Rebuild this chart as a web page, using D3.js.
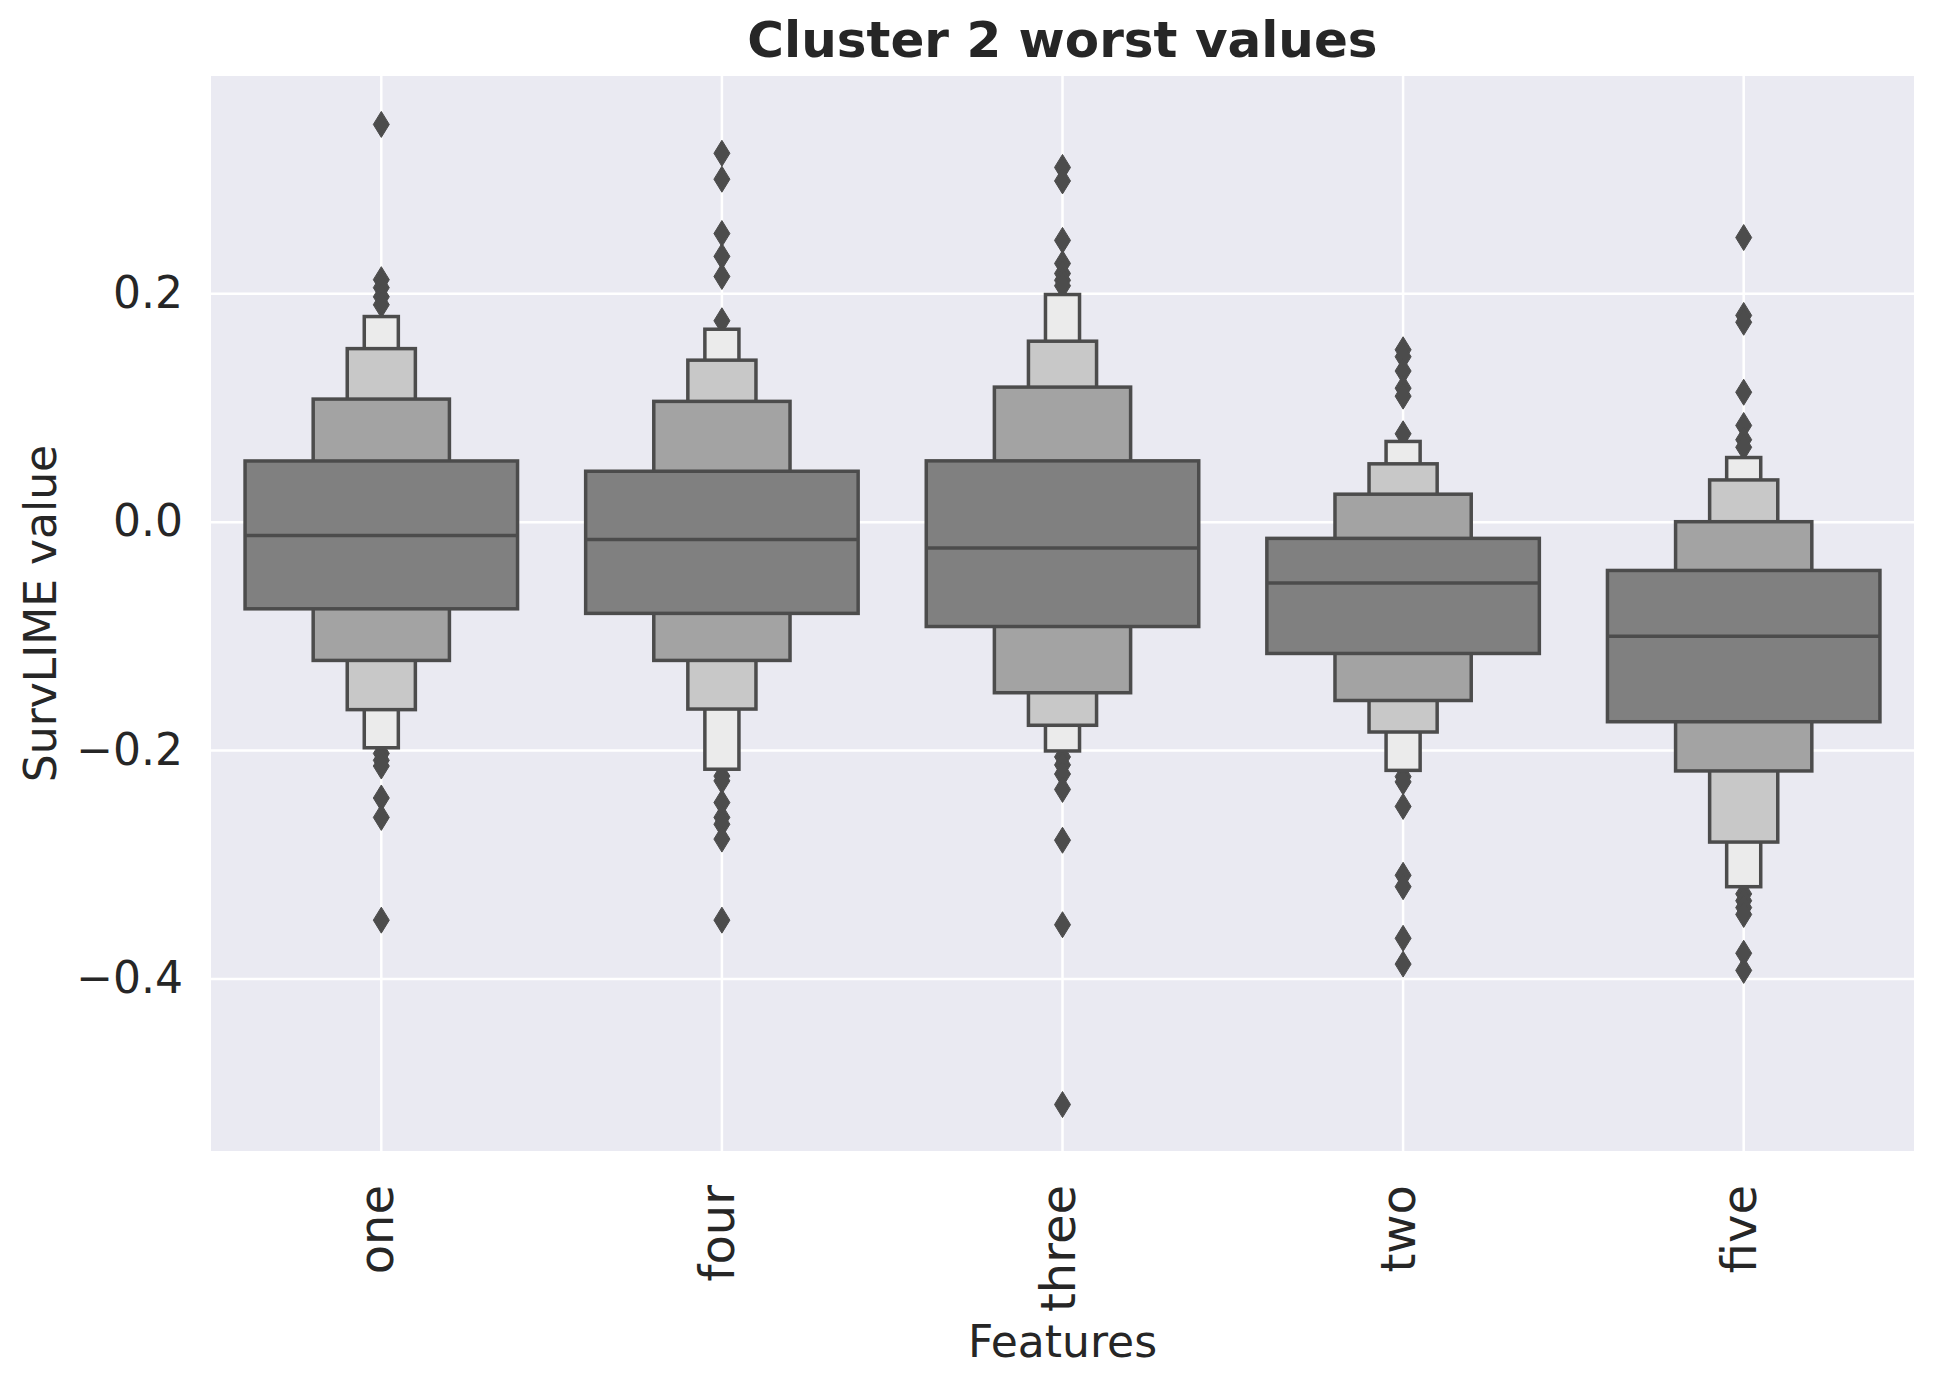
<!DOCTYPE html>
<html>
<head>
<meta charset="utf-8">
<script src="https://cdn.jsdelivr.net/npm/d3@7"></script>
<style>
  body { margin: 0; background: #fff; }
  text { font-family: "DejaVu Sans", sans-serif; fill: #262626; }
</style>
</head>
<body>
<div id="chart"></div>
<script>
// features in plotting order
const features = ["one", "four", "three", "two", "five"];
const yTicks = [-0.4, -0.2, 0.0, 0.2];

// letter-value boxes, innermost level first
const medians = [-0.012, -0.0156, -0.0231, -0.0537, -0.1004];
const upperEdges = [
  [0.0532, 0.1074, 0.1516, 0.1797],
  [0.0442, 0.1054, 0.1415, 0.1686],
  [0.0533, 0.1179, 0.1581, 0.199],
  [-0.0146, 0.0241, 0.0507, 0.0703],
  [-0.0427, 0.0, 0.0366, 0.0562]
];
const lowerEdges = [
  [-0.0763, -0.1215, -0.1646, -0.198],
  [-0.0803, -0.1215, -0.1641, -0.2168],
  [-0.0918, -0.1498, -0.1783, -0.2008],
  [-0.1154, -0.1566, -0.1842, -0.2178],
  [-0.1752, -0.2183, -0.2806, -0.3197]
];
const outliers = [
  [0.348, 0.212, 0.205, 0.197, 0.19, -0.203, -0.209, -0.214, -0.242, -0.259, -0.349],
  [0.3227, 0.300, 0.2524, 0.2324, 0.2148, 0.176, -0.2228, -0.227, -0.246, -0.259, -0.265, -0.278, -0.349],
  [0.3103, 0.2985, 0.2464, 0.2262, 0.2174, 0.2114, 0.2067, -0.206, -0.213, -0.221, -0.2345, -0.279, -0.353, -0.5105],
  [0.1506, 0.1445, 0.132, 0.117, 0.110, 0.077, -0.2233, -0.2279, -0.2494, -0.3097, -0.3197, -0.3649, -0.3875],
  [0.2489, 0.1807, 0.1747, 0.1134, 0.0843, 0.0718, 0.0652, -0.326, -0.332, -0.338, -0.344, -0.378, -0.393]
];

const levelColors = ["#808080", "#a3a3a3", "#c8c8c8", "#ebebeb"];
const edgeColor = "#4c4c4c";

const margin = { top: 76, right: 19, bottom: 234, left: 211 };
const width = 1933 - margin.left - margin.right;
const height = 1385 - margin.top - margin.bottom;

const svg = d3.select("#chart")
  .append("svg")
    .attr("width", width + margin.left + margin.right)
    .attr("height", height + margin.top + margin.bottom)
  .append("g")
    .attr("transform", `translate(${margin.left},${margin.top})`);

svg.append("rect")
  .attr("width", width)
  .attr("height", height)
  .attr("fill", "#eaeaf2");

const x = d3.scaleBand()
  .domain(features)
  .range([0, width])
  .padding(0);

const y = d3.scaleLinear()
  .domain([-0.5512, 0.3904])
  .range([height, 0]);

// grid + axes
const yAxis = svg.append("g")
  .call(d3.axisLeft(y).tickValues(yTicks).tickFormat(d3.format(".1f")).tickSize(-width).tickPadding(28));
yAxis.select(".domain").remove();
yAxis.selectAll("line").attr("stroke", "#fff").attr("stroke-width", 2.5);
yAxis.selectAll("text").style("font-size", "44px").attr("fill", "#262626");

const xAxis = svg.append("g")
  .attr("transform", `translate(0,${height})`)
  .call(d3.axisBottom(x).tickSize(-height));
xAxis.select(".domain").remove();
xAxis.selectAll("line").attr("stroke", "#fff").attr("stroke-width", 2.5);
xAxis.selectAll("text")
  .style("font-size", "48px")
  .attr("fill", "#262626")
  .attr("transform", "rotate(-90)")
  .attr("x", -34)
  .attr("y", 0)
  .attr("dy", "0.25em")
  .attr("text-anchor", "end");

const baseW = x.bandwidth() * 0.8;

// outliers go under the boxes
features.forEach((f, i) => {
  const cx = x(f) + x.bandwidth() / 2;
  svg.append("g").selectAll("path")
    .data(outliers[i])
    .enter()
    .append("path")
      .attr("d", "M0,-13L8,0L0,13L-8,0Z")
      .attr("transform", d => `translate(${cx},${y(d)})`)
      .attr("fill", edgeColor)
      .attr("stroke", edgeColor)
      .attr("stroke-width", 1);
});

features.forEach((f, i) => {
  const cx = x(f) + x.bandwidth() / 2;
  const g = svg.append("g");
  const levels = d3.range(upperEdges[i].length).reverse();
  g.selectAll("rect")
    .data(levels)
    .enter()
    .append("rect")
      .attr("x", k => cx - baseW * Math.pow(0.5, k) / 2)
      .attr("width", k => baseW * Math.pow(0.5, k))
      .attr("y", k => y(upperEdges[i][k]))
      .attr("height", k => y(lowerEdges[i][k]) - y(upperEdges[i][k]))
      .attr("fill", k => levelColors[k])
      .attr("stroke", edgeColor)
      .attr("stroke-width", 3.5);
  g.append("line")
    .attr("x1", cx - baseW / 2)
    .attr("x2", cx + baseW / 2)
    .attr("y1", y(medians[i]))
    .attr("y2", y(medians[i]))
    .attr("stroke", edgeColor)
    .attr("stroke-width", 3.5);
});

// title and labels
svg.append("text")
  .attr("x", width / 2)
  .attr("y", -19)
  .attr("text-anchor", "middle")
  .style("font-size", "50px")
  .style("font-weight", "bold")
  .text("Cluster 2 worst values");

svg.append("text")
  .attr("x", width / 2)
  .attr("y", 1357 - margin.top)
  .attr("text-anchor", "middle")
  .style("font-size", "44px")
  .text("Features");

svg.append("text")
  .attr("transform", `translate(${-155},${height / 2}) rotate(-90)`)
  .attr("text-anchor", "middle")
  .style("font-size", "44px")
  .text("SurvLIME value");
</script>
</body>
</html>
